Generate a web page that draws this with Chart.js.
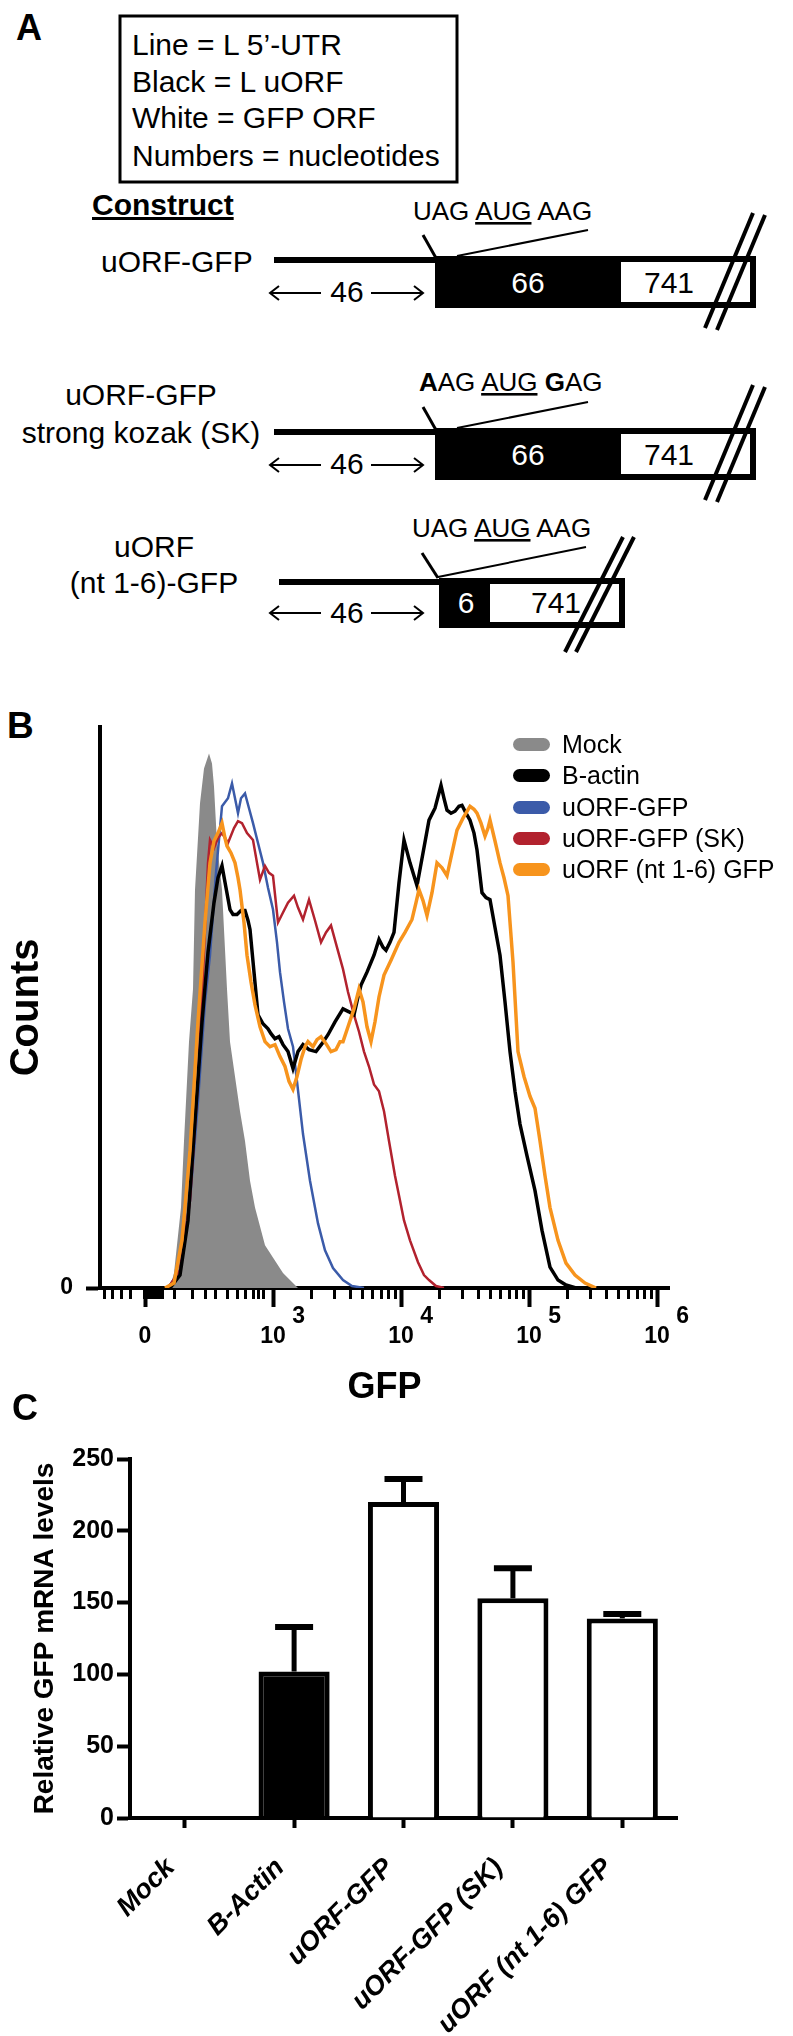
<!DOCTYPE html>
<html>
<head>
<meta charset="utf-8">
<title>uORF-GFP constructs</title>
<script src="https://cdn.jsdelivr.net/npm/chart.js@4.4.0/dist/chart.umd.min.js"></script>
<style>
    body { margin: 0; width: 793px; height: 2036px; position: relative; background: #fff; font-family: "Liberation Sans", Arial, sans-serif; color: #000; overflow: hidden; }
    .panel-letter { position: absolute; font-weight: bold; line-height: 1; }
    #histWrap { position: absolute; left: 0; top: 700px; width: 793px; height: 720px; }
    #barWrap { position: absolute; left: 0; top: 1420px; width: 793px; height: 616px; }
    #histLegend { position: absolute; left: 513px; top: 729px; font-size: 25px; }
    .legend-row { display: flex; align-items: center; height: 31.25px; white-space: nowrap; }
    .legend-swatch { width: 37px; height: 13px; border-radius: 7px; margin-right: 12px; }
</style>
</head>
<body>

<!-- Panel A: construct schematic -->
<svg width="793" height="700" style="position:absolute;left:0;top:0" font-family="Liberation Sans, Arial, sans-serif">
    <text x="16" y="40" font-size="36" font-weight="bold">A</text>
    <rect x="120" y="16" width="337" height="166" fill="none" stroke="#000" stroke-width="3"/>
    <text x="132" y="55" font-size="30">Line = L 5’-UTR</text>
    <text x="132" y="92" font-size="30">Black = L uORF</text>
    <text x="132" y="128" font-size="30">White = GFP ORF</text>
    <text x="132" y="166" font-size="30">Numbers = nucleotides</text>
    <text x="92" y="215" font-size="30" font-weight="bold" text-decoration="underline">Construct</text>

    <!-- uORF-GFP -->
    <text x="101" y="272" font-size="30">uORF-GFP</text>
    <g id="longConstruct">
        <line x1="423" y1="235" x2="436" y2="258" stroke="#000" stroke-width="3"/>
        <line x1="457" y1="256" x2="588" y2="230" stroke="#000" stroke-width="2"/>
        <line x1="274" y1="260" x2="436" y2="260" stroke="#000" stroke-width="6"/>
        <rect x="438" y="259" width="315" height="46" fill="#fff" stroke="#000" stroke-width="6"/>
        <rect x="435" y="256" width="186" height="52" fill="#000"/>
        <text x="528" y="293" font-size="30" fill="#fff" text-anchor="middle">66</text>
        <text x="669" y="293" font-size="30" text-anchor="middle">741</text>
        <line x1="765" y1="215" x2="717" y2="330" stroke="#000" stroke-width="4"/>
        <line x1="753" y1="213" x2="705" y2="328" stroke="#000" stroke-width="4"/>
        <line x1="270" y1="293" x2="321" y2="293" stroke="#000" stroke-width="2"/>
        <polyline points="279,286 270,293 279,300" fill="none" stroke="#000" stroke-width="2"/>
        <line x1="371" y1="293" x2="423" y2="293" stroke="#000" stroke-width="2"/>
        <polyline points="414,286 423,293 414,300" fill="none" stroke="#000" stroke-width="2"/>
        <text x="347" y="302" font-size="30" text-anchor="middle">46</text>
    </g>
    <text x="413" y="220" font-size="26">UAG <tspan text-decoration="underline">AUG</tspan> AAG</text>

    <!-- uORF-GFP strong kozak -->
    <text x="141" y="405" font-size="30" text-anchor="middle">uORF-GFP</text>
    <text x="141" y="443" font-size="30" text-anchor="middle">strong kozak (SK)</text>
    <use href="#longConstruct" transform="translate(0,172)"/>
    <text x="419" y="391" font-size="26"><tspan font-weight="bold">A</tspan>AG <tspan text-decoration="underline">AUG</tspan> <tspan font-weight="bold">G</tspan>AG</text>

    <!-- uORF (nt 1-6)-GFP -->
    <text x="154" y="557" font-size="30" text-anchor="middle">uORF</text>
    <text x="154" y="593" font-size="30" text-anchor="middle">(nt 1-6)-GFP</text>
    <text x="412" y="537" font-size="26">UAG <tspan text-decoration="underline">AUG</tspan> AAG</text>
    <line x1="422" y1="553" x2="438" y2="578" stroke="#000" stroke-width="3"/>
    <line x1="438" y1="577" x2="586" y2="547" stroke="#000" stroke-width="2"/>
    <line x1="279" y1="582" x2="440" y2="582" stroke="#000" stroke-width="6"/>
    <rect x="442" y="581" width="180" height="44" fill="#fff" stroke="#000" stroke-width="6"/>
    <rect x="439" y="578" width="51" height="50" fill="#000"/>
    <text x="466" y="613" font-size="30" fill="#fff" text-anchor="middle">6</text>
    <text x="556" y="613" font-size="30" text-anchor="middle">741</text>
    <line x1="634" y1="537" x2="576" y2="652" stroke="#000" stroke-width="4"/>
    <line x1="623" y1="537" x2="565" y2="652" stroke="#000" stroke-width="4"/>
    <line x1="270" y1="613" x2="321" y2="613" stroke="#000" stroke-width="2"/>
    <polyline points="279,606 270,613 279,620" fill="none" stroke="#000" stroke-width="2"/>
    <line x1="371" y1="613" x2="423" y2="613" stroke="#000" stroke-width="2"/>
    <polyline points="414,606 423,613 414,620" fill="none" stroke="#000" stroke-width="2"/>
    <text x="347" y="623" font-size="30" text-anchor="middle">46</text>
</svg>

<div class="panel-letter" style="left:7px;top:707px;font-size:37px;">B</div>
<div id="histWrap"><canvas id="histChart" width="793" height="720"></canvas></div>
<div id="histLegend"></div>

<div class="panel-letter" style="left:12px;top:1390px;font-size:36px;">C</div>
<div id="barWrap"><canvas id="barChart" width="793" height="616"></canvas></div>

<script>
// Panel B: GFP histograms, x in display channels (256 per decade, 0 = "0"), y in counts
const gfpTickValues = [0, 256, 512, 768, 1024];
const gfpTickBase = ['0', '10', '10', '10', '10'];
const gfpTickExp = ['', '3', '4', '5', '6'];
const gfpNearZeroTicks = [-82, -66, -48, -30, -2, 4, 10, 16, 22, 28, 34, 58, 94, 120, 140, 164, 184, 200, 216, 226, 236];

const seriesNames = ['Mock', 'B-actin', 'uORF-GFP', 'uORF-GFP (SK)', 'uORF (nt 1-6) GFP'];
const seriesColors = ['#8a8a8a', '#000000', '#3b5ba9', '#b2222e', '#f7941d'];

const mockCounts = [[50,0],[58,15],[72,81],[78,148],[88,248],[96,301],[100,401],[110,488],[118,523],[128,538],
    [134,528],[138,505],[144,448],[154,401],[164,301],[170,248],[190,178],[200,148],[210,108],[220,81],
    [240,43],[276,15],[306,0]];

const bActinCounts = [[50,0],[70,13],[86,68],[100,168],[114,268],[126,338],[138,388],[146,413],[154,425],[162,403],
    [170,381],[176,376],[184,376],[192,380],[200,380],[206,370],[210,361],[218,318],[226,275],[236,266],
    [246,261],[252,256],[260,251],[268,253],[276,245],[286,238],[296,221],[306,238],[316,245],[328,240],
    [342,238],[354,246],[366,255],[380,268],[396,281],[408,278],[418,275],[426,293],[432,305],[444,318],
    [458,335],[468,351],[476,343],[482,340],[490,348],[498,358],[508,408],[518,451],[530,428],[544,405],
    [556,438],[568,471],[580,483],[592,506],[598,493],[604,481],[612,478],[620,480],[628,485],[634,486],
    [642,478],[650,471],[658,458],[664,441],[674,398],[682,393],[690,391],[700,363],[710,335],[720,288],
    [730,238],[740,198],[750,165],[764,133],[780,98],[794,58],[810,21],[826,8],[842,3],[862,0]];

const uorfCounts = [[46,0],[70,18],[90,88],[106,188],[120,288],[130,335],[142,418],[154,485],[166,493],[174,508],
    [180,493],[186,478],[192,493],[200,498],[208,483],[216,468],[226,448],[236,428],[246,403],[256,381],
    [264,348],[270,318],[278,288],[286,261],[296,243],[304,208],[316,155],[330,108],[346,65],[360,38],
    [376,20],[396,8],[414,2],[438,0]];

const uorfSkCounts = [[46,0],[70,18],[90,88],[106,208],[118,338],[126,428],[130,451],[138,443],[146,453],[154,458],
    [166,448],[178,463],[186,470],[194,468],[204,458],[216,451],[224,428],[230,411],[240,425],[248,418],
    [256,415],[266,368],[276,378],[286,388],[298,395],[306,383],[316,371],[328,391],[340,370],[352,348],
    [362,358],[372,365],[384,343],[396,321],[406,298],[418,275],[428,258],[438,238],[448,223],[458,205],
    [468,198],[478,178],[488,148],[500,113],[510,88],[518,68],[530,48],[546,26],[558,13],[568,8],
    [582,2],[598,0]];

const uorfNt6Counts = [[40,0],[58,5],[74,48],[90,138],[106,268],[120,368],[130,428],[138,450],[146,458],[154,468],
    [160,453],[164,445],[172,438],[180,428],[186,413],[190,401],[198,368],[204,335],[212,308],[220,285],
    [230,263],[240,248],[250,243],[260,245],[270,233],[280,223],[288,208],[296,200],[304,213],[312,230],
    [320,243],[326,248],[336,243],[344,250],[352,253],[362,246],[372,238],[382,240],[390,248],[396,248],
    [406,263],[418,281],[428,301],[436,288],[444,263],[452,248],[460,268],[468,293],[478,315],[492,330],
    [508,348],[520,358],[534,371],[542,388],[548,401],[556,390],[564,375],[574,398],[584,428],[594,423],
    [604,415],[614,438],[624,461],[636,473],[650,485],[658,482],[664,478],[672,468],[680,455],[686,463],
    [690,471],[700,450],[710,428],[718,413],[726,395],[736,328],[746,238],[758,213],[770,193],[780,181],
    [790,148],[800,113],[810,81],[826,48],[842,25],[860,13],[880,5],[902,0]];

// Panel C: relative GFP mRNA levels
const mrnaCategories = ['Mock', 'B-Actin', 'uORF-GFP', 'uORF-GFP (SK)', 'uORF (nt 1-6) GFP'];
const mrnaLevels = [0, 102, 220, 153, 139];
const mrnaErrors = [0, 31, 16, 21, 3];
const mrnaTicks = [0, 50, 100, 150, 200, 250];

const FONT = '"Liberation Sans", Arial, sans-serif';
Chart.defaults.font.family = FONT;
Chart.defaults.color = '#000';

// minor ticks: the near-zero ones plus log steps inside each decade
function gfpMinorTicks() {
    const ticks = gfpNearZeroTicks.slice();
    for (let d = 1; d <= 3; d++) {
        for (let k = 2; k <= 9; k++) {
            ticks.push(256 * d + 256 * Math.log10(k));
        }
    }
    return ticks;
}

// legend for the histogram
function renderLegend() {
    const legend = document.getElementById('histLegend');
    legend.innerHTML = '';
    seriesNames.forEach((name, i) => {
        const row = document.createElement('div');
        row.className = 'legend-row';
        row.innerHTML = `<span class="legend-swatch" style="background:${seriesColors[i]}"></span><span>${name}</span>`;
        legend.appendChild(row);
    });
}

const histSeries = [mockCounts, bActinCounts, uorfCounts, uorfSkCounts, uorfNt6Counts];
const drawOrder = [5, 2, 4, 3, 1];
const lineWidths = [0, 3.5, 2.5, 2.5, 3.5];

const histChart = new Chart(document.getElementById('histChart'), {
    type: 'line',
    data: {
        datasets: histSeries.map((pts, i) => ({
            label: seriesNames[i],
            data: pts.map(p => ({ x: p[0], y: p[1] })),
            borderColor: seriesColors[i],
            backgroundColor: seriesColors[i],
            borderWidth: lineWidths[i],
            fill: i === 0 ? 'origin' : false,
            order: drawOrder[i],
            pointRadius: 0,
            tension: 0
        }))
    },
    options: {
        responsive: false,
        animation: false,
        devicePixelRatio: 1,
        layout: { padding: { top: 23, right: 124, left: 0, bottom: 0 } },
        plugins: { legend: { display: false }, tooltip: { enabled: false } },
        scales: {
            x: {
                type: 'linear',
                position: 'bottom',
                min: -90,
                max: 1048,
                afterBuildTicks: s => { s.ticks = gfpTickValues.map(v => ({ value: v })); },
                afterFit: s => { s.height = 132; },
                grid: { drawOnChartArea: false, tickLength: 19, tickWidth: 4, tickColor: '#000' },
                border: { display: true, width: 4, color: '#000' },
                ticks: {
                    autoSkip: false,
                    maxRotation: 0,
                    padding: -1,
                    color: '#000',
                    font: { size: 23, weight: 'bold', lineHeight: 0.9 },
                    callback: (v, i) => [gfpTickExp[i] ? '        ' + gfpTickExp[i] : '', gfpTickBase[i]]
                },
                title: {
                    display: true,
                    text: 'GFP',
                    color: '#000',
                    font: { size: 36, weight: 'bold', lineHeight: 1 },
                    padding: { top: 0, bottom: 14 }
                }
            },
            xm: {
                type: 'linear',
                axis: 'x',
                position: { y: 0 },
                min: -90,
                max: 1048,
                afterBuildTicks: s => { s.ticks = gfpMinorTicks().map(v => ({ value: v })); },
                afterFit: s => { s.height = 0; },
                grid: { drawOnChartArea: false, tickLength: 11, tickWidth: 3, tickColor: '#000' },
                border: { display: false },
                ticks: { display: false }
            },
            y: {
                min: 0,
                max: 565,
                afterBuildTicks: s => { s.ticks = [{ value: 0 }]; },
                afterFit: s => { s.width = 100; },
                grid: { drawOnChartArea: false, tickLength: 14, tickWidth: 4, tickColor: '#000' },
                border: { display: true, width: 4, color: '#000' },
                ticks: { padding: 13, color: '#000', font: { size: 23, weight: 'bold' } },
                title: {
                    display: true,
                    text: 'Counts',
                    color: '#000',
                    font: { size: 40, weight: 'bold', lineHeight: 1 },
                    padding: { top: 7, bottom: 0 }
                }
            }
        }
    }
});

// error bars (upper only) for panel C
const errorBars = {
    id: 'errorBars',
    afterDatasetsDraw(chart) {
        const ctx = chart.ctx;
        const yScale = chart.scales.y;
        chart.getDatasetMeta(0).data.forEach((bar, i) => {
            if (!mrnaErrors[i]) return;
            const top = yScale.getPixelForValue(mrnaLevels[i]);
            const end = yScale.getPixelForValue(mrnaLevels[i] + mrnaErrors[i]);
            ctx.save();
            ctx.strokeStyle = '#000';
            ctx.lineWidth = 5;
            ctx.beginPath();
            ctx.moveTo(bar.x, top);
            ctx.lineTo(bar.x, end);
            ctx.stroke();
            ctx.lineWidth = 6;
            ctx.beginPath();
            ctx.moveTo(bar.x - 19, end);
            ctx.lineTo(bar.x + 19, end);
            ctx.stroke();
            ctx.restore();
        });
    }
};

const barColors = ['#fff', '#000', '#fff', '#fff', '#fff'];

const barChart = new Chart(document.getElementById('barChart'), {
    type: 'bar',
    data: {
        labels: mrnaCategories,
        datasets: [{
            label: 'Relative GFP mRNA levels',
            data: mrnaLevels,
            backgroundColor: barColors,
            borderColor: '#000',
            borderWidth: 5,
            barPercentage: 0.65,
            categoryPercentage: 1
        }]
    },
    options: {
        responsive: false,
        animation: false,
        devicePixelRatio: 1,
        layout: { padding: { top: 39, right: 116, left: 0, bottom: 0 } },
        plugins: { legend: { display: false }, tooltip: { enabled: false } },
        scales: {
            x: {
                afterFit: s => { s.height = 218; },
                grid: { offset: false, drawOnChartArea: false, tickLength: 10, tickWidth: 4, tickColor: '#000' },
                border: { display: true, width: 4, color: '#000' },
                ticks: {
                    autoSkip: false,
                    maxRotation: 45,
                    minRotation: 45,
                    padding: 24,
                    labelOffset: -14,
                    color: '#000',
                    font: { size: 27, weight: 'bold', style: 'italic' }
                }
            },
            y: {
                min: 0,
                max: 250,
                afterBuildTicks: s => { s.ticks = mrnaTicks.map(v => ({ value: v })); },
                afterFit: s => { s.width = 130; },
                grid: { drawOnChartArea: false, tickLength: 13, tickWidth: 4, tickColor: '#000' },
                border: { display: true, width: 4, color: '#000' },
                ticks: { padding: 3, color: '#000', font: { size: 25, weight: 'bold' } },
                title: {
                    display: true,
                    text: 'Relative GFP mRNA levels',
                    color: '#000',
                    font: { size: 28, weight: 'bold', lineHeight: 1 },
                    padding: { top: 31, bottom: 0 }
                }
            }
        }
    },
    plugins: [errorBars]
});

renderLegend();
</script>
</body>
</html>
